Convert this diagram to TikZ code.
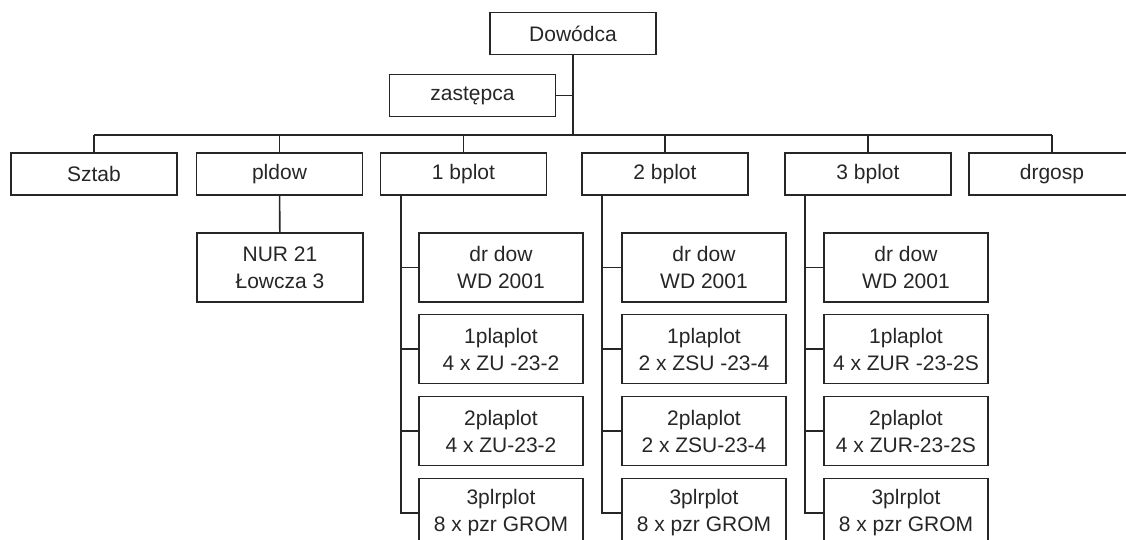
\documentclass[tikz,border=0pt]{standalone}
\usepackage{fontspec}
\setmainfont{Liberation Sans}

\begin{document}
\begin{tikzpicture}
  [x=0.5pt,y=-0.5pt,line width=0.8pt,draw=black!85,
   every node/.style={draw=black!85, text=black!85, rectangle, align=center, inner sep=0pt,
                      font=\fontsize{10.5}{13.5}\selectfont},
   unit/.style={minimum width=83pt, minimum height=21pt},
   sub/.style={minimum width=82pt, minimum height=34.5pt}]
  \useasboundingbox (0,0) rectangle (1126,540);
  \clip (0,0) rectangle (1126,540);

  \node[unit] (dow) at (573,33.5) {Dowódca};
  \node[unit] (zast) at (472.5,95.5) {zastępca};

  \node[unit] (sztab) at (94,174)  {Sztab};
  \node[unit] (pldow) at (279.5,174) {pldow};
  \node[unit] (b1) at (463.5,174) {1 bplot};
  \node[unit] (b2) at (665,174) {2 bplot};
  \node[unit] (b3) at (868,174) {3 bplot};
  \node[unit] (drg) at (1052,174) {drgosp};

  \node[sub, minimum width=83pt] (nur) at (280,267.5) {NUR 21\\Łowcza 3};

  \node[sub] (b1-0) at (501,267.5) {dr dow\\WD 2001};
  \node[sub] (b1-1) at (501,349) {1plaplot\\4 x ZU -23-2};
  \node[sub] (b1-2) at (501,431) {2plaplot\\4 x ZU-23-2};
  \node[sub] (b1-3) at (501,513) {3plrplot\\8 x pzr GROM};

  \node[sub] (b2-0) at (704,267.5) {dr dow\\WD 2001};
  \node[sub] (b2-1) at (704,349) {1plaplot\\2 x ZSU -23-4};
  \node[sub] (b2-2) at (704,431) {2plaplot\\2 x ZSU-23-4};
  \node[sub] (b2-3) at (704,513) {3plrplot\\8 x pzr GROM};

  \node[sub] (b3-0) at (906,267.5) {dr dow\\WD 2001};
  \node[sub] (b3-1) at (906,349) {1plaplot\\4 x ZUR -23-2S};
  \node[sub] (b3-2) at (906,431) {2plaplot\\4 x ZUR-23-2S};
  \node[sub] (b3-3) at (906,513) {3plrplot\\8 x pzr GROM};

  \coordinate (bus) at (573,135);
  \draw (dow) -- (dow |- bus);
  \draw (zast) -- (zast -| dow);
  \draw (sztab |- bus) -- (drg |- bus);
  \foreach \n in {sztab,pldow,b1,b2,b3,drg}
    \draw (\n) -- (\n |- bus);
  \draw (pldow) -- (nur);

  \foreach \c in {b1,b2,b3}
    \foreach \s in {0,...,3}
      \draw ([xshift=10.5pt]\c.south west) |- (\c-\s.west);
\end{tikzpicture}
\end{document}
